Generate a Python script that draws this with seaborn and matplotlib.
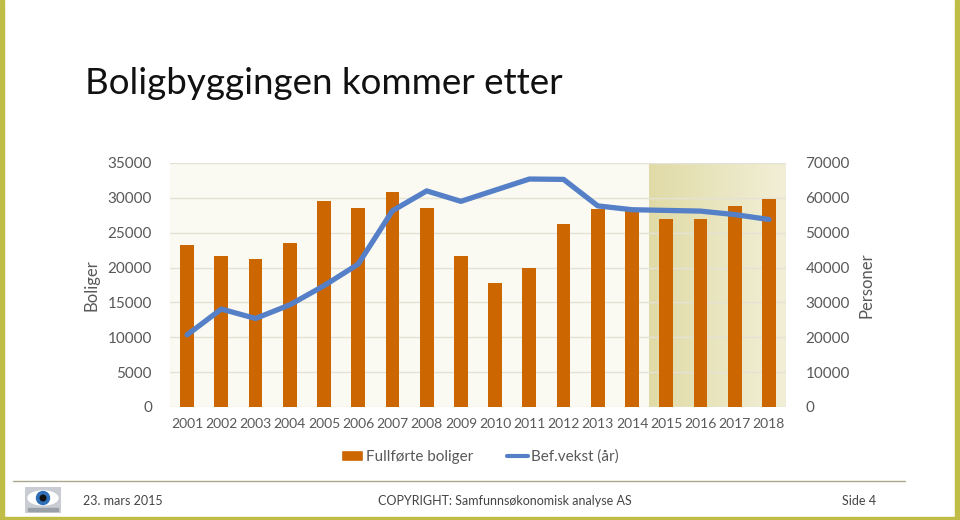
import numpy as np
import pandas as pd
import matplotlib
matplotlib.use('Agg')
import matplotlib.pyplot as plt
import seaborn as sns
from matplotlib.patches import Rectangle, Ellipse, Circle, Patch
from matplotlib.lines import Line2D
from matplotlib.colors import LinearSegmentedColormap

years = ['2001', '2002', '2003', '2004', '2005', '2006', '2007', '2008', '2009',
         '2010', '2011', '2012', '2013', '2014', '2015', '2016', '2017', '2018']
boliger = [23300, 21600, 21300, 23550, 29500, 28500, 30900, 28600, 21700,
           17800, 20000, 26250, 28450, 28250, 26900, 26900, 28900, 29900]
befvekst = [20700, 28100, 25400, 29300, 34800, 41000, 56300, 62000, 59000,
            62200, 65400, 65300, 57700, 56600, 56400, 56200, 55200, 53800]
forecast_years = ['2015', '2016', '2017', '2018']
left_ticks = [0, 5000, 10000, 15000, 20000, 25000, 30000, 35000]
right_ticks = [0, 10000, 20000, 30000, 40000, 50000, 60000, 70000]

df = pd.DataFrame({'year': years, 'boliger': boliger, 'befvekst': befvekst})

sns.set_theme(style='white')
plt.rcParams['font.family'] = ['Lato', 'DejaVu Sans']
txt = '#595959'
bar_col = '#CC6600'
line_col = '#5580C8'

fig = plt.figure(figsize=(9.6, 5.2), dpi=100)
fig.patch.set_facecolor('white')
ax = fig.add_axes([170/960, 1-407/520, 616/960, 244/520])
ax.set_facecolor('#FBFAF2')

sns.barplot(data=df, x='year', y='boliger', color=bar_col, width=0.4,
            saturation=1, linewidth=0, ax=ax, zorder=3)

# shaded forecast period with soft gradient
i0 = years.index(forecast_years[0]) - 0.5
i1 = years.index(forecast_years[-1]) + 0.5
grad = np.linspace(0, 1, 256).reshape(1, -1)
cmap = LinearSegmentedColormap.from_list('fc', ['#E0DBA6', '#F2EFD8'])
ax.imshow(grad, extent=[i0, i1, 0, 35000], aspect='auto', cmap=cmap, zorder=1)

ax.set_xlim(-0.5, len(years) - 0.5)
ax.set_ylim(0, 35000)
ax.set_yticks(left_ticks)
for t in left_ticks:
    ax.axhline(t, color='#E4E1D6', lw=1, zorder=2)
ax.set_xlabel('')
ax.set_ylabel('Boliger', fontsize=12, color=txt, labelpad=6)
ax.tick_params(axis='y', labelsize=11, colors=txt, length=0, pad=13)
ax.tick_params(axis='x', labelsize=10, colors=txt, length=0, pad=8)
for s in ax.spines.values():
    s.set_visible(False)

ax2 = ax.twinx()
sns.lineplot(x=np.arange(len(years)), y=df['befvekst'], color=line_col,
             lw=3.8, ax=ax2, zorder=4)
ax2.set_ylim(0, 70000)
ax2.set_yticks(right_ticks)
ax2.set_ylabel('Personer', fontsize=12, color=txt, labelpad=6)
ax2.tick_params(axis='y', labelsize=11, colors=txt, length=0, pad=14)
for s in ax2.spines.values():
    s.set_visible(False)
ax2.grid(False)

handles = [Patch(facecolor=bar_col, label='Fullførte boliger'),
           Line2D([0], [0], color=line_col, lw=3, label='Bef.vekst (år)')]
fig.legend(handles=handles, loc='center', bbox_to_anchor=(480/960, 1-457/520),
           ncol=2, frameon=False, fontsize=11, labelcolor=txt,
           handlelength=1.4, handletextpad=0.2, columnspacing=2.2)

fig.text(85/960, 1-83/520, 'Boligbyggingen kommer etter', fontsize=26.5,
         color='#111111', va='center', ha='left')

# footer
fig.add_artist(Line2D([13/960, 905/960], [1-481/520, 1-481/520],
                      color='#A9A88E', lw=1))
fig.text(83/960, 1-501/520, '23. mars 2015', fontsize=9, color='#444444', va='center')
fig.text(505/960, 1-501/520, 'COPYRIGHT: Samfunnsøkonomisk analyse AS', fontsize=9,
         color='#444444', va='center', ha='center')
fig.text(842/960, 1-501/520, 'Side 4', fontsize=9, color='#444444', va='center')

# small eye logo
lg = fig.add_axes([25/960, 1-513/520, 36/960, 26/520])
lg.set_xlim(0, 36)
lg.set_ylim(0, 26)
lg.axis('off')
lg.add_patch(Rectangle((0, 0), 36, 26, color='#C9CDD3'))
lg.add_patch(Ellipse((18, 15), 30, 14, color='white'))
lg.add_patch(Circle((18, 15), 6.5, color='#2F6FB8'))
lg.add_patch(Circle((18, 15), 2.8, color='#111111'))
lg.add_patch(Rectangle((3, 2), 30, 3, color='#9AA0A8'))

# slide frame
frame = '#BFBD45'
fig.add_artist(Rectangle((0, 0), 4/960, 1, transform=fig.transFigure, color=frame))
fig.add_artist(Rectangle((955/960, 0), 5/960, 1, transform=fig.transFigure, color=frame))
fig.add_artist(Rectangle((0, 0), 1, 3/520, transform=fig.transFigure, color=frame))

fig.savefig('out.png', dpi=100)
